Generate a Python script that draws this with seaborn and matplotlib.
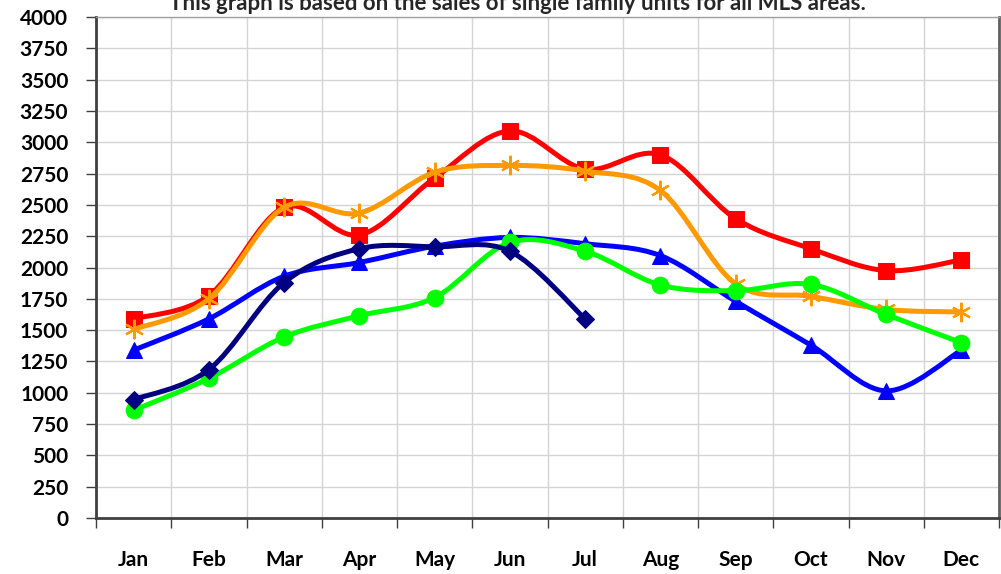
import numpy as np
import matplotlib
matplotlib.use("Agg")
import matplotlib.pyplot as plt
from matplotlib.path import Path
from matplotlib.patches import PathPatch
import seaborn as sns

months = ["Jan", "Feb", "Mar", "Apr", "May", "Jun", "Jul", "Aug", "Sep", "Oct", "Nov", "Dec"]
red_sq = [1590, 1775, 2480, 2260, 2715, 3090, 2785, 2900, 2390, 2150, 1975, 2060]
orange_ast = [1505, 1750, 2480, 2435, 2760, 2815, 2770, 2615, 1870, 1770, 1665, 1645]
blue_tri = [1340, 1590, 1930, 2040, 2170, 2240, 2190, 2095, 1730, 1380, 1015, 1340]
green_circ = [860, 1115, 1445, 1615, 1760, 2200, 2130, 1860, 1815, 1865, 1625, 1400]
navy_dia = [945, 1185, 1880, 2150, 2165, 2130, 1590]
title = "This graph is based on the sales of single family units for all MLS areas."

sns.set_theme(style="white")
plt.rcParams["font.family"] = ["Lato", "DejaVu Sans"]
plt.rcParams["font.weight"] = "bold"

fig = plt.figure(figsize=(10.01, 5.74), dpi=100)
ax = fig.add_axes([96 / 1001, 1 - 518 / 574, (999 - 96) / 1001, (518 - 17) / 574])


def smooth_path(xs, ys):
    pts = np.column_stack([xs, ys]).astype(float)
    n = len(pts)
    verts = [pts[0]]
    codes = [Path.MOVETO]
    for i in range(n - 1):
        p0 = pts[i - 1] if i > 0 else pts[i]
        p1 = pts[i]
        p2 = pts[i + 1]
        p3 = pts[i + 2] if i + 2 < n else pts[i + 1]
        c1 = p1 + (p2 - p0) / 6.0
        c2 = p2 - (p3 - p1) / 6.0
        verts += [c1, c2, p2]
        codes += [Path.CURVE4] * 3
    return Path(verts, codes)


series = [
    (red_sq, "#ff0000", "s", 11, {}),
    (orange_ast, "#ff9900", (6, 2, 0), 14, {"markeredgewidth": 1.6}),
    (blue_tri, "#0000ff", "^", 12, {}),
    (green_circ, "#00ff00", "o", 12, {}),
    (navy_dia, "#000080", "D", 9, {}),
]

for z, (vals, col, mk, ms, extra) in enumerate(series):
    xs = np.arange(len(vals))
    patch = PathPatch(smooth_path(xs, vals), facecolor="none", edgecolor=col,
                      lw=3.6, zorder=3 + 2 * z, capstyle="round", joinstyle="round")
    ax.add_patch(patch)
    kw = dict(markeredgecolor=col, markerfacecolor=col)
    kw.update(extra)
    sns.lineplot(x=xs, y=vals, ax=ax, color=col, marker=mk, markersize=ms,
                 linestyle="none", zorder=4 + 2 * z, **kw)

ax.set_xlim(-0.5, 11.5)
ax.set_ylim(0, 4000)
ax.set_xticks(np.arange(12))
ax.set_xticklabels(months)
ax.set_xticks(np.arange(-0.5, 12, 1), minor=True)
ax.set_yticks(np.arange(0, 4001, 250))
ax.set_yticklabels([str(v) for v in range(0, 4001, 250)])

ax.grid(False)
ax.grid(axis="y", which="major", color="#d4d4d4", lw=1.0, zorder=0)
ax.grid(axis="x", which="minor", color="#d4d4d4", lw=1.0, zorder=0)
ax.set_axisbelow(True)

ax.tick_params(axis="x", which="major", length=0, pad=23, labelsize=15, colors="black")
ax.tick_params(axis="x", which="minor", length=7, width=1, color="#404040", direction="out", bottom=True)
ax.tick_params(axis="y", which="major", length=7, width=1, color="#404040", direction="out",
               left=True, pad=13, labelsize=15, colors="black")
for lab in ax.get_xticklabels() + ax.get_yticklabels():
    lab.set_fontweight("bold")

for side in ["left", "bottom"]:
    ax.spines[side].set_color("#404040")
    ax.spines[side].set_linewidth(2)
ax.spines["right"].set_color("#606060")
ax.spines["right"].set_linewidth(2)
ax.spines["top"].set_color("#a0a0a0")
ax.spines["top"].set_linewidth(1)
ax.set_xlabel("")
ax.set_ylabel("")

fig.text(517 / 1001, 1 - 10 / 574, title, ha="center", va="baseline", fontsize=16, fontweight="bold")

fig.savefig("out.png", dpi=100)
